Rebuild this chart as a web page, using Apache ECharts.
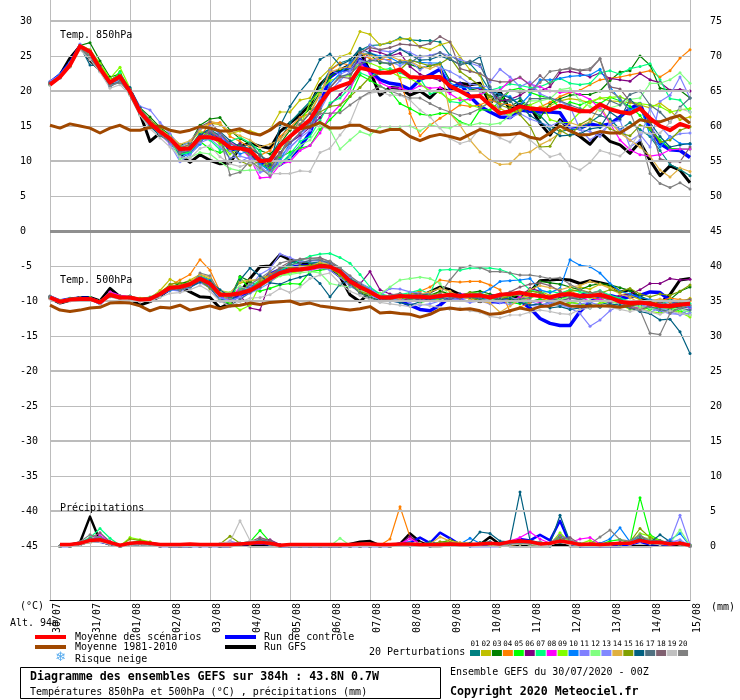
<!DOCTYPE html>
<html><head><meta charset="utf-8">
<style>html,body{margin:0;padding:0;background:#fff}#c{width:740px;height:700px}</style>
<script src="https://cdn.jsdelivr.net/npm/echarts@6/dist/echarts.min.js"></script>
</head><body><div id="c"></div>
<script>
const dayLabels=['30/07','31/07','01/08','02/08','03/08','04/08','05/08','06/08','07/08','08/08','09/08','10/08','11/08','12/08','13/08','14/08','15/08'];
const leftTicks=[30,25,20,15,10,5,0,-5,-10,-15,-20,-25,-30,-35,-40,-45];
const rightTicks=[75,70,65,60,55,50,45,40,35,30,25,20,15,10,5,0];
const thickLines=[30,20,10,-10,-20,-30,-40];
const thinLines=[25,15,5,-5,-15,-25,-35,-45];
const pertColors=['#008080','#c0c000','#008000','#ff8000','#00ff00','#800080','#00ff80','#ff00ff','#80ff00','#0080ff','#8080ff','#80ff80','#8088ff','#e0b040','#80a000','#006080','#507080','#806070','#c0c0c0','#808080'];

const t850Mean=[20.9,22.0,23.7,26.4,25.6,23.2,21.2,22.1,19.9,17.0,15.4,14.2,13.2, 11.7,11.8,13.4,13.4,13.0,11.9,11.8,11.5,10.0,10.1, 12.2,13.5,14.7,15.9,18.2,20.1,20.7,21.2,23.3,23.0, 22.6,22.6,23.1,22.0,21.9,22.0,22.0,20.7,20.0,19.2, 19.3,18.0,16.8,17.1,17.8,17.5,17.4,17.3,17.9,17.5, 17.1,17.1,18.1,17.4,17.0,16.8,17.5,16.1,15.0,14.4,15.3,14.8];
const t850Clim=[15.1,14.7,15.3,15.0,14.7,14.0,14.7,15.1,14.4,14.4,14.8,15.0,14.4, 14.1,14.4,14.9,14.7,14.3,14.3,14.6,14.0,13.7,14.4, 15.5,14.9,14.6,14.9,15.5,14.7,14.7,15.1,15.1,14.4, 14.1,14.5,14.5,13.5,12.9,13.5,13.8,13.5,13.1,13.8, 14.5,14.1,13.7,13.8,14.0,13.4,13.1,14.0,15.0,14.3, 13.7,13.8,14.2,14.0,14.0,14.9,15.9,15.6,15.6,16.1,16.5,15.4];
const t850Ctrl=[21.2,22.3,24.0,26.4,25.2,23.5,21.2,22.0,20.0,17.2,15.2,14.2,13.0, 11.0,11.3,13.0,14.0,13.5,11.5,12.0,10.8,9.8,9.0, 9.5,10.5,12.0,14.0,18.0,22.0,23.0,23.0,24.5,22.8, 21.6,21.1,20.9,20.2,21.6,22.3,23.1,20.4,21.1,19.2, 17.8,17.0,16.3,16.2,17.3,17.1,17.0,17.0,16.9,14.7, 14.7,15.3,15.0,15.3,16.3,17.5,18.2,14.7,12.5,11.6,11.5,10.5];
const t850Gfs=[21.0,22.3,24.7,26.4,24.4,23.0,21.5,22.0,19.6,16.8,12.8,14.0,13.0, 10.9,9.8,10.9,10.1,9.6,9.7,12.0,12.6,12.1,11.8, 14.2,15.4,16.6,18.0,20.9,22.3,23.0,23.7,25.6,22.8, 19.4,20.5,20.4,19.4,20.0,19.0,20.4,19.9,21.1,20.9, 21.1,18.2,19.9,17.3,18.1,17.8,15.4,13.7,15.9,14.4, 13.5,12.4,14.1,12.8,12.3,11.1,12.7,10.1,7.9,9.3,8.7,6.9];

const t850_p01=[21.2,22.2,23.8,26.5,25.4,23.6,21.5,22.3,20.2,17.2,15.3,14.0,13.3, 11.6,12.0,14.0,14.5,13.6,12.0,12.4,11.6,10.2,10.4, 13.0,15.5,17.0,18.5,20.5,23.0,24.0,24.5,25.8,26.5, 26.6,26.9,27.6,27.3,27.2,27.2,27.0,25.1,24.2,23.9, 22.3,20.0,19.0,18.5,19.0,17.5,16.5,15.0,14.2,14.5, 14.5,15.5,16.5,16.0,14.5,15.5,14.5,13.5,11.5,9.5,8.8,7.9];
const t850_p02=[21.1,22.1,23.7,26.4,25.8,23.8,21.4,22.4,20.3,17.4,15.6,14.4,13.4, 11.9,12.4,14.6,15.4,15.2,13.9,14.3,14.3,13.8,14.5, 17.0,17.0,18.7,19.0,21.8,23.2,24.9,25.4,28.5,28.1, 26.6,27.0,27.4,27.5,26.3,25.9,26.6,27.0,24.9,23.0, 22.3,18.2,17.5,16.8,17.2,17.8,17.5,17.9,18.6,18.9, 18.7,18.3,19.0,18.6,18.5,18.3,18.0,17.6,18.3,17.2,15.9,16.3];
const t850_p03=[21.0,22.0,23.6,26.5,26.9,24.3,22.0,22.4,20.1,17.6,16.3,14.8,13.7, 12.3,12.6,15.1,16.0,16.2,14.4,13.2,12.4,11.5,11.0, 12.4,14.4,16.0,17.5,19.8,22.0,23.1,23.0,25.3,25.2, 24.0,24.0,24.1,23.8,23.3,23.6,24.0,21.5,21.0,20.3, 20.0,19.3,18.8,17.8,18.6,17.5,16.2,18.2,18.9,19.4, 19.5,19.5,20.0,21.5,22.7,22.9,25.0,23.7,20.4,20.1,20.1,19.0];
const t850_p04=[21.2,22.1,23.9,26.5,25.7,23.7,21.6,21.9,19.9,17.0,15.2,14.0,13.0, 11.8,12.0,13.5,15.4,15.5,13.5,12.8,12.0,10.8,11.5, 13.5,14.8,16.2,16.8,19.5,22.9,24.0,23.7,25.4,24.6, 24.5,24.5,21.8,16.8,13.6,15.1,16.1,17.0,18.0,17.8, 18.0,18.7,18.2,18.0,17.6,17.4,17.7,18.4,19.2,19.8, 20.1,20.9,21.6,21.8,22.0,22.3,22.6,22.9,22.0,22.9,24.7,25.9];
const t850_p05=[20.9,21.9,23.5,26.2,25.3,23.0,21.2,22.8,19.5,16.6,15.0,13.8,12.8, 11.0,11.3,12.8,11.7,11.2,11.7,12.4,11.4,9.5,9.0, 10.5,11.3,11.8,12.2,14.5,15.9,17.3,19.2,22.3,21.5, 20.7,20.0,18.2,17.5,16.7,16.5,16.8,16.8,15.6,15.1, 17.3,17.3,18.5,20.1,20.4,19.8,19.3,19.0,17.6,18.4, 18.0,18.6,18.2,19.1,18.6,17.8,16.5,14.5,13.0,11.8,11.7,11.7];
const t850_p06=[21.0,22.2,23.8,26.3,25.5,23.4,21.3,22.0,20.0,17.1,15.3,14.1,12.9, 11.4,11.9,13.6,14.4,13.2,11.6,12.5,11.2,10.0,9.4, 11.2,12.6,13.6,14.8,16.2,18.0,19.5,21.0,23.4,25.8, 25.5,25.0,25.4,23.5,22.4,21.9,21.5,21.6,21.0,20.5, 20.3,20.0,18.6,18.8,19.4,20.3,20.0,20.6,22.6,22.8, 22.5,22.0,22.6,21.8,21.6,21.4,22.5,21.6,21.2,20.1,20.2,20.0];
const t850_p07=[21.1,22.0,23.6,26.2,25.2,23.2,21.1,22.6,20.3,17.3,15.5,14.5,13.6, 10.9,11.2,13.2,13.0,11.6,12.8,13.4,12.6,11.4,8.4, 9.5,11.0,12.8,13.5,15.8,18.3,19.0,20.5,22.6,22.0, 23.0,23.2,22.6,21.9,21.8,19.6,20.0,18.5,18.3,19.1, 19.4,20.1,20.5,21.0,20.8,20.5,20.6,21.2,21.8,21.1, 20.9,21.1,22.6,22.9,22.4,23.2,23.5,23.9,21.6,18.9,18.7,17.0];
const t850_p08=[21.0,21.9,23.6,26.3,25.9,23.5,21.2,21.7,19.7,16.9,15.1,13.8,12.5, 11.5,11.6,12.7,14.2,13.4,12.6,12.0,10.4,7.6,7.7, 9.5,9.9,11.5,12.2,14.0,16.5,18.0,20.0,24.0,22.5, 21.2,20.5,20.4,20.0,20.8,20.4,20.5,19.6,18.7,18.8, 19.5,20.1,20.1,21.5,21.9,21.0,20.6,20.0,19.8,19.9, 19.5,18.8,17.5,15.4,13.0,11.6,10.9,10.7,10.9,11.6,11.7,11.7];
const t850_p09=[21.0,22.1,23.8,26.6,25.9,23.9,21.8,23.4,20.4,17.5,15.5,14.3,13.3, 12.0,12.8,14.2,13.6,12.4,11.0,11.8,10.8,9.2,9.8, 11.8,13.5,15.0,18.3,20.0,21.5,22.0,22.2,24.3,24.0, 23.4,22.8,22.0,21.8,21.0,20.0,19.8,18.7,19.0,18.0, 17.6,18.4,17.0,16.5,17.5,18.0,18.6,15.9,15.5,15.5, 17.0,18.5,19.0,19.1,19.2,18.5,18.2,18.0,17.8,17.0,17.3,17.5];
const t850_p10=[21.3,22.4,24.1,26.6,25.0,23.4,21.0,21.9,20.1,17.0,15.1,14.0,12.8, 10.5,11.0,12.4,14.8,14.0,12.2,11.0,11.5,9.6,8.5, 10.2,12.5,14.0,15.0,17.5,21.0,22.5,24.0,25.3,25.4, 25.0,24.8,24.0,24.4,24.1,24.0,24.0,21.1,20.6,20.4, 20.5,20.0,19.5,19.2,18.0,19.5,21.6,21.6,21.8,22.1, 22.2,22.3,23.1,20.6,18.7,17.3,17.8,13.7,12.0,13.5,12.5,12.4];
const t850_p11=[21.4,22.3,24.0,26.7,25.4,23.0,20.9,21.8,20.3,17.8,17.3,15.5,13.9, 12.0,12.8,14.6,15.0,13.8,11.5,9.9,10.6,9.3,8.0, 10.0,11.9,13.3,15.5,19.0,23.0,22.4,23.0,25.0,26.6, 25.8,25.6,26.0,25.5,24.8,25.1,25.5,25.0,24.5,24.0, 23.5,21.3,23.1,22.0,20.6,21.3,19.6,19.0,18.5,17.8, 14.5,13.0,14.0,15.3,14.5,12.9,13.8,12.0,18.5,19.4,22.0,19.0];
const t850_p12=[21.0,22.0,23.5,26.2,25.4,23.3,21.0,21.5,19.7,17.0,15.0,13.8,13.0, 10.3,10.5,11.2,11.0,9.9,8.9,8.6,8.7,8.7,8.3, 9.6,10.5,12.2,13.0,15.0,14.5,11.7,13.0,14.2,13.7, 14.9,14.9,14.9,15.0,14.3,15.2,14.8,14.7,15.4,15.1, 15.4,15.2,15.4,16.5,17.8,18.6,18.6,18.9,20.2,20.4, 18.6,17.8,17.2,17.6,18.0,18.8,19.0,21.1,21.1,21.6,22.6,21.1];
const t850_p13=[21.2,22.2,23.9,26.5,25.1,23.1,20.7,21.6,19.8,16.8,14.9,13.9,12.4, 9.9,10.9,12.6,13.2,12.0,10.4,10.7,10.3,8.4,8.7, 10.8,12.0,13.3,14.4,17.2,19.9,21.5,22.8,24.3,24.2, 24.8,24.2,23.6,24.3,23.0,23.9,23.3,22.8,22.0,21.0, 20.8,20.5,17.0,16.2,16.8,16.0,15.5,15.0,15.6,14.8, 14.5,14.2,13.5,15.4,15.8,12.0,13.0,17.5,15.0,13.4,13.9,14.0];
const t850_p14=[21.1,22.0,23.6,26.3,25.6,23.5,21.5,22.2,20.0,17.2,15.7,14.6,13.5, 12.4,12.9,14.3,15.7,15.3,14.2,13.6,13.0,12.0,12.4, 13.0,14.6,15.3,17.0,19.5,22.7,23.2,23.5,25.4,25.2, 24.6,25.0,24.4,24.3,23.5,23.2,23.8,16.8,15.1,13.0, 11.3,10.1,9.5,9.6,11.0,11.3,12.3,13.0,14.0,15.5, 15.0,15.6,17.9,15.6,14.0,13.0,12.0,10.7,8.7,7.7,9.0,8.5];
const t850_p15=[20.9,21.9,23.5,26.1,25.0,23.1,21.1,21.9,19.8,17.3,15.9,14.7,13.1, 12.0,12.0,13.0,14.5,12.6,11.8,10.0,9.4,10.0,9.4, 10.8,13.2,15.0,15.8,17.0,17.8,18.0,19.2,20.5,22.0, 22.5,22.9,23.0,24.4,24.0,23.6,23.9,24.8,22.8,21.8, 20.8,19.2,18.0,17.5,16.6,15.0,12.0,12.1,14.4,13.6, 15.2,16.0,15.4,14.6,14.0,13.6,15.1,14.7,12.7,13.0,14.4,14.9];
const t850_p16=[21.0,21.9,23.7,26.4,23.7,23.6,21.0,21.2,20.5,17.6,15.0,13.6,12.9, 11.5,11.8,13.7,14.6,14.2,12.9,12.0,11.8,10.9,9.5, 15.0,17.8,19.9,21.6,24.5,25.3,23.7,24.4,26.1,25.4, 24.8,25.2,26.0,25.2,24.4,24.5,25.0,24.5,23.8,24.0, 24.9,20.1,19.5,19.0,18.0,16.5,15.6,14.5,13.6,13.7, 13.9,14.6,14.8,17.0,16.0,18.8,17.5,15.5,13.5,12.0,12.3,12.5];
const t850_p17=[21.2,22.1,23.7,26.0,24.8,22.8,20.6,21.4,19.6,16.7,15.3,14.2,13.2, 11.0,12.2,13.4,14.1,13.0,10.2,11.8,12.5,10.8,10.0, 11.0,13.6,15.2,16.8,18.5,20.5,22.1,22.4,23.8,24.4, 24.2,23.8,24.2,24.0,25.0,24.9,25.5,24.6,23.7,24.3, 23.8,20.6,17.8,18.7,16.8,18.9,18.9,19.0,18.6,18.0, 17.5,17.0,16.5,18.6,18.0,19.5,20.0,18.0,17.0,15.5,17.7,19.0];
const t850_p18=[21.1,22.2,23.9,26.4,25.3,23.3,21.1,21.7,20.2,17.4,15.8,14.2,13.0, 11.8,12.4,14.9,15.6,14.0,12.5,11.8,11.0,10.4,8.8, 11.2,12.6,14.0,15.5,17.5,20.5,22.0,21.8,25.5,26.2, 25.9,26.2,26.7,26.6,26.4,26.8,27.8,27.0,23.2,22.8, 22.5,21.6,21.3,21.3,22.0,20.8,22.2,21.0,23.0,23.2, 22.9,23.0,24.6,20.6,20.3,18.5,17.7,15.5,10.3,9.9,9.9,12.0];
const t850_p19=[20.8,21.8,23.4,25.9,24.5,22.7,20.4,20.9,19.4,16.5,14.6,13.3,12.0, 10.6,10.4,11.8,12.2,10.6,9.6,9.2,9.7,8.9,8.2, 8.2,8.2,8.6,8.5,11.2,11.8,13.7,15.5,19.0,19.7, 19.9,19.4,19.4,18.7,17.3,16.3,14.7,13.2,12.5,12.9, 14.7,14.0,13.3,12.7,14.2,13.0,11.8,10.6,11.0,9.3, 8.7,9.8,11.5,11.1,10.7,12.0,14.1,13.9,14.0,15.5,17.5,17.0];
const t850_p20=[21.0,22.0,23.7,26.1,24.9,23.0,20.8,21.2,19.9,17.2,15.4,13.7,12.7, 11.2,11.5,12.9,14.4,13.4,8.0,8.4,10.0,9.0,7.9, 10.8,13.4,16.0,15.0,16.8,16.8,16.9,18.0,19.0,19.9, 20.7,20.0,19.5,19.0,19.0,18.2,17.5,17.0,16.5,16.8, 17.5,18.4,19.0,20.1,19.8,20.0,21.2,22.8,23.0,23.3, 23.0,23.2,24.6,20.0,19.0,17.0,13.5,8.2,6.8,6.2,6.9,6.0];

const t500Mean=[-9.5,-10.1,-9.8,-9.7,-9.7,-10.2,-9.1,-9.5,-9.5,-9.8,-9.7,-9.0,-8.1, -8.0,-7.6,-6.8,-7.5,-9.1,-9.1,-8.9,-8.5,-7.7,-6.8, -6.0,-5.6,-5.5,-5.3,-5.0,-5.1,-5.8,-7.2,-8.0,-8.7, -9.5,-9.5,-9.3,-9.4,-9.4,-9.5,-9.3,-9.1,-9.3,-9.2, -9.2,-9.5,-9.1,-9.0,-8.8,-9.1,-9.3,-9.5,-9.1,-9.0, -9.3,-9.3,-9.1,-9.5,-10.1,-10.3,-10.2,-10.4,-10.7,-10.7,-10.5,-10.4];
const t500Clim=[-10.6,-11.3,-11.5,-11.3,-11.0,-10.9,-10.3,-10.2,-10.3,-10.7,-11.4,-10.9,-11.0, -10.6,-11.3,-11.0,-10.7,-11.1,-10.7,-10.6,-10.3,-10.5,-10.2, -10.1,-10.0,-10.5,-10.3,-10.7,-10.9,-11.1,-11.3,-11.1,-10.8, -11.7,-11.6,-11.8,-11.9,-12.3,-11.9,-11.2,-11.0,-11.2,-11.1, -11.4,-11.9,-11.8,-11.4,-11.0,-11.3,-10.8,-10.7,-10.2,-10.7, -10.8,-10.7,-10.7,-10.7,-10.9,-10.6,-10.3,-10.2,-10.8,-10.9,-10.6,-10.3];
const t500Ctrl=[-9.4,-10.0,-9.7,-9.6,-9.6,-10.3,-9.0,-9.4,-9.6,-9.9,-9.8,-9.1,-8.3, -8.2,-7.9,-7.0,-7.9,-9.6,-9.7,-9.2,-8.6,-7.4,-6.2, -5.5,-5.2,-5.0,-5.0,-4.8,-5.0,-5.6,-7.5,-8.2,-8.7, -9.6,-9.8,-10.0,-10.6,-11.2,-11.4,-10.6,-9.4,-9.6,-9.4, -9.4,-10.0,-10.2,-9.8,-9.9,-11.0,-12.5,-13.2,-13.5,-13.5, -11.5,-10.1,-9.4,-9.2,-9.6,-9.4,-9.2,-8.7,-8.8,-9.9,-10.4,-10.5];
const t500Gfs=[-9.6,-10.3,-9.9,-9.5,-9.5,-10.0,-8.2,-9.4,-9.7,-10.6,-10.1,-9.3,-8.3, -8.0,-8.7,-9.4,-9.5,-11.0,-10.3,-8.8,-6.8,-5.1,-5.0, -3.4,-4.1,-4.6,-4.8,-5.0,-5.4,-6.5,-9.1,-10.1,-8.7, -9.9,-9.9,-9.7,-9.6,-9.4,-8.7,-8.0,-8.4,-9.1,-9.6, -10.1,-9.4,-9.9,-9.4,-9.4,-8.7,-7.1,-7.0,-6.9,-7.0, -7.5,-7.1,-7.4,-7.7,-8.7,-8.4,-9.6,-10.1,-10.3,-9.1,-7.0,-6.8];

const t500_p01=[-9.4,-10.0,-9.6,-9.6,-9.5,-10.0,-8.9,-9.4,-9.3,-9.7,-9.5,-8.9,-7.9, -7.7,-7.3,-6.5,-7.2,-9.5,-10.2,-8.8,-8.0,-7.4,-6.2, -5.6,-4.6,-4.2,-4.6,-4.4,-4.4,-5.2,-6.8,-8.0,-8.6, -9.2,-9.3,-9.0,-9.6,-9.8,-9.9,-9.2,-8.9,-9.5,-9.2, -9.4,-9.8,-9.6,-9.4,-10.0,-10.2,-9.7,-10.4,-10.6,-10.2, -10.4,-11.0,-10.5,-10.2,-9.8,-10.2,-10.6,-10.9,-11.5,-11.2,-10.8,-11.0];
const t500_p02=[-9.3,-9.9,-9.7,-9.5,-9.6,-10.0,-8.8,-9.3,-9.4,-9.6,-9.6,-8.5,-6.9, -7.6,-7.0,-6.2,-6.9,-8.5,-8.8,-7.4,-7.2,-6.8,-6.3, -6.0,-5.5,-5.4,-5.0,-4.6,-4.8,-5.4,-6.9,-7.8,-8.4, -9.0,-9.6,-9.2,-9.8,-10.1,-9.5,-8.6,-9.0,-9.4,-9.7, -9.0,-9.2,-9.9,-9.8,-9.6,-9.2,-8.6,-9.2,-9.0,-8.4, -8.0,-8.3,-7.6,-8.0,-8.6,-9.2,-9.8,-10.2,-10.5,-10.8,-10.2,-9.6];
const t500_p03=[-9.5,-10.2,-9.9,-9.8,-9.8,-10.3,-9.2,-9.6,-9.7,-9.9,-9.8,-9.2,-8.0, -7.5,-7.2,-6.6,-7.6,-8.9,-9.6,-6.5,-7.2,-8.0,-7.0, -5.8,-5.4,-5.2,-4.9,-4.7,-4.9,-5.6,-7.0,-8.8,-9.4, -10.0,-9.7,-9.4,-9.0,-8.9,-9.2,-8.6,-9.0,-9.5,-8.8, -8.6,-9.0,-9.4,-9.7,-8.9,-8.6,-7.2,-7.4,-7.6,-8.0, -8.4,-7.8,-7.5,-7.7,-8.1,-8.5,-9.3,-9.9,-10.2,-9.8,-8.6,-8.0];
const t500_p04=[-9.6,-10.1,-9.7,-9.6,-9.7,-10.1,-9.0,-9.5,-9.4,-9.7,-9.6,-8.8,-7.8, -7.0,-6.2,-4.1,-5.6,-8.6,-9.2,-8.4,-8.0,-7.3,-6.2, -5.4,-5.1,-5.2,-5.0,-4.9,-5.2,-6.1,-7.4,-8.4,-9.0, -9.6,-9.8,-9.4,-9.0,-8.6,-8.0,-7.0,-7.2,-7.3,-7.2, -7.2,-7.7,-8.4,-11.5,-10.9,-10.2,-9.9,-9.6,-9.0,-8.6, -9.1,-9.5,-9.8,-9.4,-10.0,-10.6,-10.2,-10.5,-10.0,-9.6,-9.8,-10.0];
const t500_p05=[-9.5,-10.0,-9.8,-9.7,-9.6,-10.2,-9.2,-9.6,-9.5,-9.8,-9.8,-9.1,-8.4, -8.3,-7.9,-6.9,-7.4,-9.8,-10.4,-6.6,-8.4,-8.6,-8.2, -7.7,-7.5,-7.6,-5.8,-5.6,-5.4,-5.6,-6.8,-7.5,-8.2, -9.0,-9.4,-9.5,-9.8,-10.2,-9.9,-9.6,-9.0,-9.4,-8.8, -8.9,-9.3,-9.8,-10.2,-10.4,-10.0,-9.8,-10.1,-9.6,-9.4, -9.8,-10.2,-9.6,-9.2,-9.8,-10.4,-10.8,-11.2,-10.8,-11.0,-11.4,-12.0];
const t500_p06=[-9.4,-10.2,-9.8,-9.7,-9.8,-10.1,-9.1,-9.4,-9.6,-9.9,-9.6,-9.0,-8.2, -8.2,-8.0,-7.2,-7.6,-9.3,-9.5,-9.2,-11.0,-11.3,-7.2, -5.8,-5.4,-5.2,-5.4,-4.8,-5.0,-5.8,-6.9,-7.6,-5.8, -8.4,-9.0,-9.2,-9.5,-9.8,-9.4,-9.2,-9.6,-9.0,-9.3, -9.6,-9.2,-9.0,-8.8,-9.4,-8.2,-8.6,-9.8,-9.5,-9.2, -9.0,-8.8,-9.4,-9.6,-9.2,-9.0,-8.4,-7.5,-7.5,-6.8,-7.0,-6.9];
const t500_p07=[-9.5,-10.0,-9.6,-9.8,-9.7,-10.2,-9.3,-9.5,-9.3,-9.7,-9.9,-9.2,-8.3, -8.1,-7.7,-6.6,-7.3,-8.9,-9.6,-8.2,-8.0,-7.0,-6.6, -5.6,-5.0,-4.2,-3.6,-3.3,-3.2,-3.8,-4.6,-6.2,-8.0, -9.0,-9.3,-9.1,-8.8,-8.4,-9.0,-5.6,-5.5,-5.6,-5.3, -5.3,-5.3,-5.5,-6.0,-7.2,-8.4,-8.8,-8.6,-8.9,-8.4, -8.7,-8.9,-8.5,-9.2,-9.6,-10.0,-10.4,-10.2,-10.5,-9.9,-10.2,-10.4];
const t500_p08=[-9.6,-10.2,-9.8,-9.6,-9.7,-10.1,-8.7,-9.2,-9.4,-9.8,-9.7,-9.1,-8.2, -8.1,-7.8,-7.0,-7.7,-9.2,-9.8,-8.0,-8.2,-7.8,-6.9, -6.2,-5.9,-5.7,-5.6,-5.3,-5.4,-6.0,-7.2,-8.2,-8.9, -9.6,-9.4,-9.8,-9.9,-10.0,-9.6,-9.4,-9.2,-9.0,-8.9, -9.4,-9.7,-9.5,-10.1,-9.4,-9.9,-10.2,-9.8,-10.0,-9.6, -9.5,-10.0,-9.7,-10.2,-10.0,-10.8,-11.0,-10.6,-10.4,-10.8,-10.5,-11.0];
const t500_p09=[-9.5,-10.1,-9.7,-9.5,-9.5,-10.3,-9.2,-9.3,-9.6,-9.6,-9.5,-8.7,-7.8, -7.9,-7.4,-6.4,-7.0,-8.8,-10.2,-11.3,-10.6,-7.6,-7.2, -6.4,-6.0,-5.8,-5.4,-5.2,-5.4,-6.2,-7.8,-8.5,-9.0, -9.4,-9.6,-9.9,-9.4,-9.2,-9.6,-9.8,-9.3,-9.2,-9.5, -9.8,-9.6,-9.2,-9.5,-9.9,-9.6,-9.0,-10.0,-10.6,-10.2, -10.4,-10.8,-10.3,-10.0,-10.5,-11.2,-11.0,-11.5,-11.7,-11.4,-11.6,-12.3];
const t500_p10=[-9.4,-10.1,-9.9,-9.7,-9.6,-10.4,-9.3,-9.6,-9.7,-9.9,-9.7,-9.0,-8.5, -8.4,-8.0,-6.5,-7.0,-8.6,-9.4,-8.6,-7.9,-7.5,-6.4, -5.7,-5.4,-5.3,-5.1,-4.9,-5.2,-5.9,-7.2,-7.8,-8.3, -9.2,-9.6,-9.3,-9.7,-9.5,-9.8,-9.6,-9.2,-9.4,-9.1, -9.0,-8.3,-7.2,-7.1,-7.0,-6.8,-8.4,-8.8,-8.2,-4.1, -4.9,-5.1,-6.0,-7.5,-8.6,-9.0,-9.5,-9.8,-10.0,-10.2,-10.4,-10.8];
const t500_p11=[-9.3,-10.0,-9.8,-9.6,-9.7,-10.0,-9.0,-9.6,-9.4,-9.8,-9.6,-8.9,-8.0, -8.3,-7.7,-6.8,-7.8,-9.4,-10.0,-9.4,-8.0,-6.2,-5.4, -3.3,-3.8,-4.4,-4.3,-4.2,-4.6,-5.4,-6.6,-7.4,-8.2, -9.2,-8.2,-8.3,-8.7,-8.9,-9.0,-9.3,-9.5,-9.8,-9.4, -9.6,-9.9,-10.0,-9.5,-9.8,-10.0,-10.6,-10.2,-10.4,-11.0, -11.8,-13.6,-12.7,-11.4,-10.6,-10.9,-10.5,-11.0,-11.4,-11.8,-11.9,-11.2];
const t500_p12=[-9.4,-9.9,-9.7,-9.7,-9.8,-10.0,-9.1,-9.7,-9.6,-9.7,-9.4,-8.8,-8.1, -8.2,-7.5,-6.7,-7.4,-8.7,-8.8,-7.9,-8.5,-8.0,-7.0, -6.4,-6.2,-6.0,-5.8,-6.0,-7.5,-7.8,-8.0,-8.4,-9.0, -9.0,-8.0,-7.0,-6.8,-6.6,-6.8,-7.5,-9.3,-9.5,-9.0, -9.4,-9.8,-9.6,-9.2,-9.1,-8.8,-9.4,-9.6,-9.8,-9.4, -9.0,-9.6,-9.3,-10.0,-10.4,-10.6,-10.8,-11.0,-11.2,-10.9,-11.2,-11.6];
const t500_p13=[-9.6,-10.0,-9.9,-9.8,-9.6,-10.2,-9.2,-9.4,-9.7,-10.0,-9.8,-9.2,-8.4, -8.6,-8.0,-7.4,-8.1,-9.6,-9.9,-9.6,-8.9,-8.2,-7.4, -6.0,-5.8,-5.6,-5.5,-5.2,-5.6,-6.6,-7.9,-8.6,-9.2, -9.8,-10.0,-9.6,-10.3,-10.6,-10.4,-10.0,-9.7,-9.9,-10.2, -10.0,-10.4,-10.2,-10.5,-10.0,-10.6,-10.8,-10.3,-10.6,-10.9, -10.4,-10.2,-10.6,-10.8,-10.3,-11.0,-11.2,-11.6,-11.0,-11.5,-12.0,-11.7];
const t500_p14=[-9.5,-10.1,-9.8,-9.6,-9.7,-10.2,-9.1,-9.5,-9.5,-9.8,-9.7,-8.8,-7.9, -7.8,-7.3,-6.2,-6.6,-8.8,-9.0,-7.2,-7.0,-7.0,-6.6, -5.9,-5.5,-5.3,-5.0,-4.5,-4.8,-5.9,-7.4,-8.3,-8.9, -9.4,-9.7,-9.6,-9.3,-9.0,-8.7,-8.2,-8.6,-9.4,-9.7, -10.0,-10.3,-11.6,-10.7,-9.8,-8.4,-7.8,-8.1,-8.4,-8.0, -7.8,-7.2,-7.6,-8.2,-9.0,-9.5,-10.3,-10.0,-9.7,-10.2,-9.8,-9.9];
const t500_p15=[-9.6,-10.2,-9.7,-9.7,-9.8,-10.1,-9.1,-9.4,-9.7,-9.7,-9.6,-9.0,-7.6, -7.4,-7.7,-7.1,-8.2,-9.2,-9.4,-9.0,-8.3,-7.2,-6.7, -6.0,-5.2,-5.0,-4.9,-4.8,-5.2,-6.4,-7.6,-8.7,-9.1, -9.4,-9.2,-9.4,-9.6,-9.5,-9.1,-9.0,-9.4,-9.2,-8.8, -9.0,-9.4,-9.7,-9.3,-9.0,-8.6,-8.8,-9.5,-9.2,-8.6, -8.4,-8.8,-8.9,-8.4,-8.7,-8.2,-9.0,-9.4,-9.0,-9.2,-8.6,-7.7];
const t500_p16=[-9.4,-10.1,-9.7,-9.8,-9.6,-10.0,-9.3,-9.6,-9.5,-9.8,-9.7,-9.1,-8.3, -8.4,-8.0,-7.3,-7.2,-8.4,-9.4,-7.0,-5.3,-6.4,-7.4, -7.6,-7.0,-6.6,-6.2,-7.5,-9.4,-7.6,-7.0,-8.2,-8.8, -9.6,-10.0,-10.2,-10.6,-10.1,-9.6,-9.5,-9.2,-9.0,-9.4, -9.7,-9.4,-9.8,-9.6,-10.2,-10.6,-10.4,-11.0,-10.8,-11.2, -11.0,-10.5,-10.9,-10.4,-10.6,-11.0,-11.5,-11.8,-12.7,-12.6,-14.4,-17.5];
const t500_p17=[-9.5,-10.0,-9.8,-9.6,-9.7,-10.2,-9.0,-9.3,-9.5,-9.9,-9.8,-9.3,-8.4, -8.0,-7.6,-7.0,-8.0,-10.0,-10.6,-9.8,-8.8,-8.0,-6.6, -5.4,-4.8,-4.6,-4.2,-4.1,-4.7,-5.8,-7.6,-8.9,-9.6, -10.0,-9.5,-9.1,-9.5,-9.8,-9.3,-9.6,-9.8,-9.2,-9.5, -9.6,-9.3,-9.9,-10.1,-9.7,-9.5,-9.0,-9.6,-10.0,-9.6, -9.8,-9.4,-9.0,-9.5,-9.8,-10.4,-10.0,-10.8,-11.2,-11.6,-11.0,-11.3];
const t500_p18=[-9.4,-10.2,-9.9,-9.5,-9.8,-10.3,-9.1,-9.5,-9.6,-9.7,-9.5,-8.9,-8.0, -7.9,-7.5,-6.9,-7.7,-9.0,-9.3,-8.8,-8.2,-7.6,-6.5, -5.2,-4.4,-4.0,-3.9,-3.8,-4.4,-5.5,-7.3,-8.1,-8.8, -9.5,-9.8,-9.4,-9.2,-9.0,-9.4,-9.0,-9.4,-9.6,-9.1, -8.9,-9.6,-9.4,-8.7,-8.0,-7.6,-7.4,-7.8,-8.6,-9.4, -9.5,-9.1,-9.4,-9.9,-10.2,-10.9,-11.3,-10.7,-10.2,-10.5,-10.0,-9.8];
const t500_p19=[-9.7,-10.3,-10.0,-9.9,-9.9,-10.4,-9.4,-9.8,-9.8,-10.1,-10.0,-9.5,-8.9, -8.8,-8.4,-7.8,-8.6,-10.0,-10.8,-10.1,-9.6,-9.5,-9.1, -8.2,-8.8,-8.0,-6.8,-6.3,-6.0,-7.5,-8.6,-9.2,-9.8, -10.2,-10.4,-10.6,-10.8,-10.4,-10.7,-10.9,-11.2,-11.0,-11.4, -11.6,-12.2,-12.4,-12.0,-12.0,-11.6,-11.3,-11.5,-11.8,-11.9, -11.2,-11.0,-10.7,-10.9,-11.2,-11.5,-11.2,-11.6,-11.9,-11.4,-11.8,-12.0];
const t500_p20=[-9.5,-10.1,-9.9,-9.8,-9.6,-10.1,-9.4,-9.6,-9.6,-9.8,-9.8,-9.0,-8.1, -8.5,-7.9,-6.0,-6.4,-9.0,-9.7,-8.6,-7.6,-6.8,-5.8, -4.6,-4.2,-4.1,-3.9,-4.0,-4.3,-5.3,-6.4,-7.5,-8.6, -9.3,-9.2,-8.9,-9.4,-9.6,-9.3,-9.0,-7.0,-5.3,-5.0, -5.2,-5.8,-5.8,-6.0,-6.3,-6.3,-6.5,-6.8,-6.7,-7.6, -8.4,-8.9,-8.6,-9.4,-10.0,-10.6,-11.3,-14.6,-14.8,-11.8,-11.0,-10.6];

const rainMean=[null,.2,.2,.4,.8,.9,.5,.1,.4,.5,.4,.2,.2, .2,.3,.2,.2,.2,.2,.3,.4,.5,.4, .1,.2,.2,.2,.2,.2,.2,.2,.3,.3, .2,.2,.3,.3,.2,.2,.2,.3,.2,.2, .3,.4,.3,.6,.7,.6,.3,.4,.7,.5, .2,.3,.2,.3,.4,.4,.8,.5,.5,.3,.4,.1];
const rainCtrl=[null,0,0,.2,.7,.6,.3,0,.2,.3,.2,0,0, 0,0,0,0,0,0,.2,.3,.4,.2, 0,0,0,0,0,0,0,0,0,0, 0,0,.4,.5,1.2,.4,1.9,1.1,.2,0, 0,0,0,.3,1.0,.8,1.6,.8,3.6,.3, 0,0,0,0,0,.2,.6,.2,.3,.1,.5,0];
const rainGfs=[null,0,.2,.5,4.2,.7,.2,0,.1,.4,.4,.2,0, 0,0,.1,.1,0,0,.1,0,0,0, 0,0,0,0,0,0,0,.3,.6,.7, .1,0,.3,1.8,.6,0,0,.1,.4,.3, .2,1.3,.2,0,0,0,0,0,.2,0, 0,0,0,0,0,0,0,0,.1,.1,.2,0];
const rain_p01=[null,0,0,.4,.9,1.0,.4,0,.3,.3,.2,0,0, 0,0,0,0,0,.2,.3,.3,.5,.2, 0,0,0,0,0,0,0,0,0,0, 0,0,.3,0,.2,.6,.3,.5,.3,0, .5,.6,.1,.1,.3,.2,.3,0,1.4,.3, 0,.1,.1,.3,.5,.2,1.0,.3,.2,.3,.5,0];
const rain_p02=[null,0,0,.2,.6,1.1,.5,0,.4,.5,.3,0,0, 0,.1,.1,0,0,.1,.2,.5,.7,.3, 0,0,0,0,0,0,0,0,0,.1, 0,0,.2,.3,.1,0,.4,.9,.3,.3, .4,.2,.1,.3,.5,.2,.1,.2,1.2,.4, .2,.1,.2,.4,.3,.6,1.4,.9,.4,.5,.3,0];
const rain_p03=[null,0,0,.3,1.0,1.3,.6,0,.3,.6,.4,.2,0, 0,0,0,0,0,.2,.1,.4,.9,.4, 0,0,0,0,0,0,0,0,0,.2, 0,0,.1,.4,.2,.1,.5,.8,.4,.3, .3,.2,.1,.4,.3,.2,.2,.3,.9,.6, .1,.2,.1,.3,.2,.4,1.1,.7,.6,.4,.3,.1];
const rain_p04=[null,0,0,.2,.5,.8,.3,0,.2,.3,.1,0,0, 0,.1,0,0,0,0,.3,.2,.6,.3, 0,0,0,0,0,0,0,0,0,0, .1,1.0,5.6,1.3,.2,0,.3,.6,.3,.2, .2,.2,0,.1,.3,.4,.2,.1,.7,.3, .2,.1,0,.2,.3,.2,.9,.4,.3,.2,.4,0];
const rain_p05=[null,0,0,.4,.8,1.2,.5,0,.4,.7,.5,.1,0, 0,0,0,0,0,.1,.4,.6,2.2,.6, .1,0,0,0,0,0,0,0,0,0, 0,0,.2,.2,.4,.1,.3,.5,.2,.1, .4,.3,.2,.2,.5,.3,.2,.1,1.3,.3, .1,.3,.2,.7,.9,.4,6.9,1.6,.8,.3,.3,.1];
const rain_p06=[null,0,0,.3,.7,.9,.3,0,.2,.4,.2,0,0, 0,0,.1,0,0,.1,.2,.4,.8,.9, .2,0,0,0,0,0,0,0,0,.1, 0,0,.2,1.4,.3,0,.2,.4,.2,.2, .4,.4,.1,.5,.9,.6,.2,.3,.8,.4, .1,.1,0,.2,.4,.3,1.0,.6,.5,.7,.3,0];
const rain_p07=[null,0,0,.5,1.2,2.5,1.1,.1,.4,.8,.5,.2,0, 0,.2,0,0,0,.3,.4,.5,.6,.3, 0,0,0,0,0,0,0,0,0,0, 0,0,.1,.3,.2,.2,.4,.3,.3,.2, .3,.2,0,.3,.4,.3,.2,.2,1.1,.5, .3,.2,.3,.3,.2,.5,1.2,.8,.4,.3,.2,.1];
const rain_p08=[null,0,0,.4,.8,1.5,.6,0,.3,.4,.3,0,0, 0,0,0,0,0,.2,.4,.5,.7,.4, 0,0,0,0,0,0,0,0,0,0, 0,0,.3,1.0,.4,.1,.2,.3,.1,.1, .2,.3,.1,.7,1.2,2.0,1.0,.4,1.6,.5, 1.0,1.2,.3,.2,.3,.2,.8,.5,.4,.8,.4,0];
const rain_p09=[null,0,0,.3,.9,1.1,.4,0,1.2,.9,.6,.1,0, 0,.1,.1,0,0,.2,.2,.4,.6,.3, 0,0,0,0,0,0,0,0,0,0, 0,0,.2,.4,.3,.2,.5,.6,.2,.3, .3,.2,.1,.3,.4,.3,.3,.2,1.9,.5, .3,.8,.1,.3,.2,.5,1.8,1.4,.7,.3,.4,0];
const rain_p10=[null,0,0,.5,1.0,.9,.3,0,.2,.3,.2,0,0, 0,0,0,0,0,.2,.3,.5,.8,.3, 0,0,0,0,0,0,0,0,0,0, 0,0,.3,.5,.2,.1,.3,.4,.3,1.1, .4,.5,.1,.4,.6,.4,.5,.2,1.2,.4, .2,.2,.4,1.0,2.6,.6,1.4,.7,.3,.9,1.8,0];
const rain_p11=[null,0,0,.3,.8,1.3,.5,0,.3,.4,.2,0,0, 0,0,0,.1,0,.7,.3,.6,.9,.4, 0,0,0,0,0,0,0,0,0,0, 0,0,.2,.3,.2,0,.2,.3,.2,.1, .2,.3,.1,.5,.6,.4,.3,.2,.9,.6, .1,.2,.1,.2,.3,.2,.7,.4,.3,.6,4.4,.2];
const rain_p12=[null,0,0,.3,.6,.9,.4,0,.2,.5,.3,.1,0, 0,0,0,0,0,.1,.2,.4,.7,.5, .1,0,0,0,0,0,1.1,.1,0,0, 0,0,.2,.3,.4,.1,.2,.3,.1,.2, .3,.2,0,.2,.3,.2,.3,.2,1.0,.3, .2,.3,.1,.2,.4,.3,1.2,1.1,.5,.4,2.3,.1];
const rain_p13=[null,0,0,.4,.7,1.0,.4,0,.3,.4,.2,0,0, 0,0,0,0,.1,.4,.4,.6,.8,.3, 0,0,0,0,0,0,0,0,0,0, 0,0,.2,.4,.1,0,.4,.5,.2,.3, .3,.4,.1,.3,.4,.5,.3,.2,1.5,.3, .2,.2,.1,.3,.2,.3,.8,.5,.3,.5,.9,0];
const rain_p14=[null,0,0,.2,.5,.7,.3,0,.2,.2,.1,0,0, 0,0,0,0,0,.1,.2,.3,.5,.2, 0,0,0,0,0,0,0,0,0,0, 0,0,.1,.3,.2,.3,1.3,.7,.5,.4, .2,.3,0,.2,.3,.2,.2,.1,.8,.3, .1,.2,.1,.2,.3,.4,1.3,.9,.4,.3,.2,0];
const rain_p15=[null,0,0,.3,.7,.8,.3,0,1.0,.8,.5,.1,0, 0,0,.2,0,.3,1.4,.4,.5,.8,.3, 0,0,0,0,0,0,0,0,0,0, 0,0,.2,.3,.2,.1,.6,.5,.3,.2, .3,.3,.1,.2,.4,.3,.2,.1,1.3,.4, .2,.3,.1,.3,.4,.6,2.5,1.2,.6,.4,.5,.1];
const rain_p16=[null,0,0,.2,.6,.7,.3,0,.1,.2,.1,0,0, 0,0,0,0,0,.1,.2,.3,.5,.2, 0,0,0,0,0,0,0,0,0,0, 0,0,.1,.2,.1,0,.2,.3,.2,.4, 2.0,1.8,.7,.6,7.7,.8,.5,.3,4.4,.6, .2,.1,.2,.3,.2,.4,1.0,.5,1.6,.6,.3,0];
const rain_p17=[null,0,0,.4,.9,1.2,.5,0,.2,.3,.2,0,0, 0,0,0,0,0,.1,.3,.5,.9,.6, .1,0,0,0,0,0,0,0,0,0, 0,0,.1,.2,.1,0,.2,.4,.2,.2, .3,.4,.1,.2,.4,.3,.2,.1,.9,.5, .2,.1,0,.4,.5,.3,1.3,.8,.7,.3,.2,0];
const rain_p18=[null,0,0,.3,1.1,1.9,.6,0,.2,.4,.2,0,0, 0,0,0,0,0,.2,.4,.6,1.2,.8, .1,0,0,0,0,0,0,0,0,0, 0,0,.2,.2,.2,.1,.3,.4,.3,.2, .2,.3,.1,.3,.5,.4,.2,.2,1.0,1.2, .3,.2,.1,.2,.3,.3,.9,.5,.8,.4,.3,0];
const rain_p19=[null,0,0,.2,.5,.6,.2,0,.1,.2,.1,0,0, 0,0,0,0,.4,.6,3.6,.8,.6,.3, 0,0,0,0,0,0,0,0,0,0, 0,0,.1,.2,.1,0,.1,.2,.1,.1, .2,.2,0,.2,.3,.2,.1,.1,.6,.2, .1,.1,0,.2,.4,.3,.7,.4,.2,.2,.3,0];
const rain_p20=[null,0,0,.6,1.6,1.2,.4,0,.3,.4,.2,0,0, 0,0,0,0,0,.3,.4,.5,.7,.3, 0,0,0,0,0,0,0,0,0,0, 0,0,.2,.3,.2,.1,.2,.3,.2,.2, .3,.3,.1,.3,.4,.3,.6,.3,1.5,.9, .4,.3,1.3,2.3,.9,.7,1.6,.6,.4,.3,.4,0];

const t850Pert=[t850_p01,t850_p02,t850_p03,t850_p04,t850_p05,t850_p06,t850_p07,t850_p08,t850_p09,t850_p10,t850_p11,t850_p12,t850_p13,t850_p14,t850_p15,t850_p16,t850_p17,t850_p18,t850_p19,t850_p20];
const t500Pert=[t500_p01,t500_p02,t500_p03,t500_p04,t500_p05,t500_p06,t500_p07,t500_p08,t500_p09,t500_p10,t500_p11,t500_p12,t500_p13,t500_p14,t500_p15,t500_p16,t500_p17,t500_p18,t500_p19,t500_p20];
const rainPert=[rain_p01,rain_p02,rain_p03,rain_p04,rain_p05,rain_p06,rain_p07,rain_p08,rain_p09,rain_p10,rain_p11,rain_p12,rain_p13,rain_p14,rain_p15,rain_p16,rain_p17,rain_p18,rain_p19,rain_p20];

const categories=[];
dayLabels.forEach((d,i)=>{categories.push(d);if(i<dayLabels.length-1){categories.push(d+' 06h',d+' 12h',d+' 18h');}});

const MONO='"DejaVu Sans Mono",monospace';
const RED='#ff0000',BROWN='#a04800',BLUE='#0000ff',BLACK='#000000',GRID='#bcbcbc';
const series=[];
series.push({type:'line',data:[],z:1,silent:true,markLine:{silent:true,symbol:'none',animation:false,label:{show:false},emphasis:{disabled:true},data:[
  ...thinLines.map(v=>({yAxis:v,lineStyle:{color:GRID,width:1,type:'solid'}})),
  ...thickLines.map(v=>({yAxis:v,lineStyle:{color:GRID,width:2,type:'solid'}})),
  {yAxis:0,lineStyle:{color:'#8f8f8f',width:3,type:'solid'}}
]}});
function pert(name,data,color,axis){series.push({name,type:'line',data,yAxisIndex:axis,z:4,silent:true,symbol:'circle',symbolSize:3,showAllSymbol:true,lineStyle:{color,width:1.2},itemStyle:{color}});}
function main(name,data,color,width,axis,z){series.push({name,type:'line',data,yAxisIndex:axis,z,silent:true,symbol:'none',lineStyle:{color,width,join:'round'},itemStyle:{color}});}
t850Pert.forEach((d,i)=>pert('T850 '+(i+1),d,pertColors[i],0));
t500Pert.forEach((d,i)=>pert('T500 '+(i+1),d,pertColors[i],0));
rainPert.forEach((d,i)=>pert('Pluie '+(i+1),d,pertColors[i],1));
main('GFS 850',t850Gfs,BLACK,3,0,2);main('GFS 500',t500Gfs,BLACK,3,0,2);main('GFS pluie',rainGfs,BLACK,2.5,1,2);
main('Ctrl 850',t850Ctrl,BLUE,3.5,0,3);main('Ctrl 500',t500Ctrl,BLUE,3.5,0,3);main('Ctrl pluie',rainCtrl,BLUE,2.5,1,3);
main('Clim 850',t850Clim,BROWN,3,0,6);main('Clim 500',t500Clim,BROWN,3,0,6);
main('Moy 850',t850Mean,RED,4,0,7);main('Moy 500',t500Mean,RED,4,0,7);main('Moy pluie',rainMean,RED,3.5,1,7);

function txt(text,x,y,opt){return Object.assign({type:'text',x,y,z:20,silent:true,style:{text,fill:'#000',font:'10px '+MONO,verticalAlign:'middle'}},opt||{});}
function bold(text,x,y,size){return {type:'text',x,y,z:20,silent:true,style:{text,fill:'#000',font:'bold '+size+'px '+MONO,verticalAlign:'middle'}};}
function rect(x,y,w,h,fill){return {type:'rect',z:20,silent:true,shape:{x,y,width:w,height:h},style:{fill}};}
const graphic=[
 txt('Temp. 850hPa',60,35),txt('Temp. 500hPa',60,280),txt('Précipitations',60,508),
 txt('(°C)',20,606),txt('Alt. 94m',10,623),txt('(mm)',711,607),
 rect(35,635,31,4,RED),txt('Moyenne des scénarios',75,637),
 rect(35,645,31,4,BROWN),txt('Moyenne 1981-2010',75,647),
 {type:'text',x:55,y:658,z:20,silent:true,style:{text:'❄',fill:'#55aaee',font:'13px "DejaVu Sans"',verticalAlign:'middle'}},
 txt('Risque neige',75,659),
 rect(225,635,31,4,BLUE),txt('Run de contrôle',264,637),
 rect(225,645,31,4,BLACK),txt('Run GFS',264,647),
 txt('20 Perturbations',369,652),
 {type:'rect',z:20,silent:true,shape:{x:20.5,y:667.5,width:420,height:31},style:{fill:'#fff',stroke:'#000',lineWidth:1}},
 bold('Diagramme des ensembles GEFS sur 384h : 43.8N 0.7W',30,677,11.6),
 txt('Températures 850hPa et 500hPa (°C) , précipitations (mm)',30,692),
 txt('Ensemble GEFS du 30/07/2020 - 00Z',450,672),
 bold('Copyright 2020 Meteociel.fr',450,692,11.6)
];
pertColors.forEach((c,i)=>{
  const x=470+i*10.95;
  graphic.push(rect(x,650,10,6,c));
  graphic.push({type:'text',x:x+5,y:644,z:20,silent:true,style:{text:String(i+1).padStart(2,'0'),fill:'#000',font:'7.5px '+MONO,align:'center',verticalAlign:'middle'}});
});

const chart=echarts.init(document.getElementById('c'),null,{renderer:'canvas',width:740,height:700});
const span=600/7;
chart.setOption({
 animation:false,backgroundColor:'#fff',
 grid:{left:50,right:50,top:0,height:600,containLabel:false},
 tooltip:{show:false},legend:{show:false},
 xAxis:{type:'category',boundaryGap:false,data:categories,
  axisLine:{show:true,onZero:false,lineStyle:{color:'#000',width:1}},axisTick:{show:false},
  splitLine:{show:true,interval:3,lineStyle:{color:GRID,width:1}},
  axisLabel:{show:true,interval:3,rotate:90,margin:3,align:'right',verticalAlign:'top',padding:[2,0,0,0],color:'#000',fontFamily:'DejaVu Sans Mono',fontSize:10,
    formatter:v=>v.length===5?v:''}},
 yAxis:[
  {type:'value',position:'left',min:33-span,max:33,scale:true,splitLine:{show:false},axisLine:{show:false},axisTick:{show:false},
   axisLabel:{customValues:leftTicks,align:'left',margin:30,padding:[4,0,0,0],color:'#000',fontFamily:'DejaVu Sans Mono',fontSize:10}},
  {type:'value',position:'right',min:78-span,max:78,scale:true,splitLine:{show:false},axisLine:{show:false},axisTick:{show:false},
   axisLabel:{customValues:rightTicks,align:'left',margin:20,padding:[4,0,0,0],color:'#000',fontFamily:'DejaVu Sans Mono',fontSize:10}}
 ],
 series,graphic
});
</script></body></html>
